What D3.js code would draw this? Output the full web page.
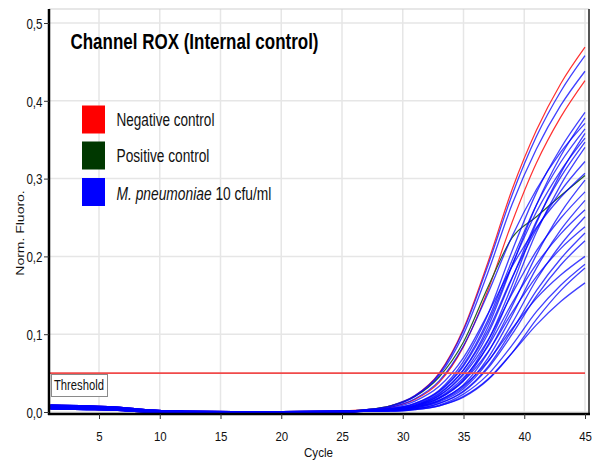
<!DOCTYPE html>
<html>
<head>
<meta charset="utf-8">
<script src="https://cdn.jsdelivr.net/npm/d3@7"></script>
<style>
  body { margin: 0; background: #fff; }
  svg { display: block; font-family: "Liberation Sans", Arial, sans-serif; }
</style>
</head>
<body>
<svg id="chart" width="598" height="460"></svg>
<script>
// Amplification cycles at which the fluorescence was sampled
const cycles = [1, 4, 7, 9, 12, 16, 20, 24, 27, 29, 31, 33, 35, 37, 39, 41, 43, 45];

// Normalised fluorescence, ROX channel (internal control)
const negativeControl = [
  [0.0088, 0.0078, 0.0056, 0.0028, 0.0012, 0.0006, 0.0006, 0.0010, 0.003, 0.008, 0.021, 0.050, 0.107, 0.192, 0.286, 0.362, 0.422, 0.469],
  [0.0040, 0.0032, 0.0018, -0.0004, -0.0014, -0.0020, -0.0019, -0.0013, 0.002, 0.006, 0.016, 0.038, 0.084, 0.156, 0.244, 0.320, 0.379, 0.426]
];
const positiveControl = [
  [0.0072, 0.0064, 0.0044, 0.0018, 0.0003, -0.0003, -0.0002, 0.0003, 0.003, 0.008, 0.020, 0.045, 0.090, 0.160, 0.224, 0.251, 0.278, 0.304]
];
const mPneumoniae = [
  [0.0072, 0.0064, 0.0044, 0.0018, 0.0003, -0.0003, -0.0002, 0.0003, 0.003, 0.008, 0.021, 0.049, 0.105, 0.188, 0.279, 0.354, 0.412, 0.458],
  [0.0056, 0.0048, 0.0030, 0.0006, -0.0006, -0.0012, -0.0011, -0.0005, 0.003, 0.007, 0.020, 0.047, 0.100, 0.179, 0.267, 0.338, 0.394, 0.438],
  [0.0040, 0.0032, 0.0018, -0.0004, -0.0014, -0.0020, -0.0019, -0.0013, 0.002, 0.004, 0.011, 0.028, 0.065, 0.125, 0.207, 0.282, 0.339, 0.385],
  [0.0088, 0.0078, 0.0056, 0.0028, 0.0012, 0.0006, 0.0006, 0.0010, 0.002, 0.004, 0.009, 0.023, 0.054, 0.109, 0.188, 0.266, 0.329, 0.378],
  [0.0072, 0.0064, 0.0044, 0.0018, 0.0003, -0.0003, -0.0002, 0.0003, 0.002, 0.006, 0.017, 0.040, 0.085, 0.152, 0.226, 0.286, 0.334, 0.371],
  [0.0056, 0.0048, 0.0030, 0.0006, -0.0006, -0.0012, -0.0011, -0.0005, 0.002, 0.004, 0.011, 0.027, 0.061, 0.118, 0.195, 0.266, 0.321, 0.364],
  [0.0040, 0.0032, 0.0018, -0.0004, -0.0014, -0.0020, -0.0019, -0.0013, 0.001, 0.003, 0.007, 0.018, 0.042, 0.091, 0.163, 0.243, 0.307, 0.358],
  [0.0088, 0.0078, 0.0056, 0.0028, 0.0012, 0.0006, 0.0006, 0.0010, 0.002, 0.004, 0.010, 0.026, 0.059, 0.114, 0.189, 0.257, 0.310, 0.352],
  [0.0072, 0.0064, 0.0044, 0.0018, 0.0003, -0.0003, -0.0002, 0.0003, 0.001, 0.003, 0.008, 0.021, 0.050, 0.100, 0.172, 0.245, 0.302, 0.347],
  [0.0056, 0.0048, 0.0030, 0.0006, -0.0006, -0.0012, -0.0011, -0.0005, 0.001, 0.002, 0.006, 0.017, 0.040, 0.086, 0.155, 0.231, 0.292, 0.340],
  [0.0040, 0.0032, 0.0018, -0.0004, -0.0014, -0.0020, -0.0019, -0.0013, 0.001, 0.004, 0.009, 0.024, 0.054, 0.104, 0.173, 0.235, 0.284, 0.322],
  [0.0088, 0.0078, 0.0056, 0.0028, 0.0012, 0.0006, 0.0006, 0.0010, 0.002, 0.005, 0.014, 0.033, 0.070, 0.126, 0.187, 0.237, 0.276, 0.307],
  [0.0072, 0.0064, 0.0044, 0.0018, 0.0003, -0.0003, -0.0002, 0.0003, 0.001, 0.002, 0.006, 0.015, 0.035, 0.076, 0.136, 0.202, 0.256, 0.298],
  [0.0056, 0.0048, 0.0030, 0.0006, -0.0006, -0.0012, -0.0011, -0.0005, 0.001, 0.003, 0.008, 0.021, 0.048, 0.092, 0.152, 0.207, 0.249, 0.283],
  [0.0040, 0.0032, 0.0018, -0.0004, -0.0014, -0.0020, -0.0019, -0.0013, 0.001, 0.002, 0.005, 0.014, 0.032, 0.069, 0.124, 0.185, 0.234, 0.272],
  [0.0088, 0.0078, 0.0056, 0.0028, 0.0012, 0.0006, 0.0006, 0.0010, 0.001, 0.003, 0.008, 0.019, 0.044, 0.084, 0.140, 0.190, 0.229, 0.260],
  [0.0072, 0.0064, 0.0044, 0.0018, 0.0003, -0.0003, -0.0002, 0.0003, 0.001, 0.002, 0.005, 0.013, 0.030, 0.064, 0.114, 0.170, 0.215, 0.251],
  [0.0056, 0.0048, 0.0030, 0.0006, -0.0006, -0.0012, -0.0011, -0.0005, 0.001, 0.003, 0.007, 0.018, 0.040, 0.077, 0.128, 0.174, 0.210, 0.238],
  [0.0040, 0.0032, 0.0018, -0.0004, -0.0014, -0.0020, -0.0019, -0.0013, 0.001, 0.002, 0.004, 0.011, 0.027, 0.058, 0.105, 0.156, 0.197, 0.230],
  [0.0088, 0.0078, 0.0056, 0.0028, 0.0012, 0.0006, 0.0006, 0.0010, 0.001, 0.002, 0.004, 0.011, 0.026, 0.056, 0.100, 0.149, 0.189, 0.220],
  [0.0072, 0.0064, 0.0044, 0.0018, 0.0003, -0.0003, -0.0002, 0.0003, 0.001, 0.002, 0.006, 0.015, 0.034, 0.065, 0.107, 0.146, 0.176, 0.200],
  [0.0056, 0.0048, 0.0030, 0.0006, -0.0006, -0.0012, -0.0011, -0.0005, 0.001, 0.001, 0.004, 0.009, 0.023, 0.048, 0.086, 0.129, 0.163, 0.190],
  [0.0040, 0.0032, 0.0018, -0.0004, -0.0014, -0.0020, -0.0019, -0.0013, 0.001, 0.001, 0.003, 0.008, 0.019, 0.041, 0.076, 0.119, 0.156, 0.185],
  [0.0088, 0.0078, 0.0056, 0.0028, 0.0012, 0.0006, 0.0006, 0.0010, 0.001, 0.001, 0.003, 0.008, 0.020, 0.042, 0.076, 0.112, 0.142, 0.166]
];

const threshold = 0.05;
const xTicks = [5, 10, 15, 20, 25, 30, 35, 40, 45];
const yTicks = [0, 0.1, 0.2, 0.3, 0.4, 0.5];
const legendColors = ["#ff0000", "#003800", "#0000ff"];

const svg = d3.select("#chart");

// plot frame
const frame = { left: 49, right: 589, top: 9, bottom: 414 };
const x = d3.scaleLinear().domain([1, 45]).range([50.4, 585]);
const y = d3.scaleLinear().domain([0, 0.5]).range([412, 23]);

// grid
const grid = svg.append("g").attr("stroke", "#e6e6e6").attr("stroke-width", 1.5);
grid.selectAll("line.v").data(xTicks).join("line")
  .attr("x1", d => x(d)).attr("x2", d => x(d))
  .attr("y1", frame.top).attr("y2", frame.bottom);
grid.selectAll("line.h").data(yTicks).join("line")
  .attr("x1", frame.left).attr("x2", frame.right)
  .attr("y1", d => y(d)).attr("y2", d => y(d));

// curves
svg.append("clipPath").attr("id", "plotClip").append("rect")
  .attr("x", frame.left + 1).attr("y", frame.top)
  .attr("width", frame.right - frame.left - 2).attr("height", frame.bottom - frame.top - 1);

const line = d3.line()
  .x((d, i) => x(cycles[i]))
  .y(d => y(d))
  .curve(d3.curveMonotoneX);

const curves = svg.append("g").attr("clip-path", "url(#plotClip)").attr("fill", "none");
curves.selectAll("path.neg").data(negativeControl).join("path")
  .attr("class", "neg").attr("d", line)
  .attr("stroke", "#ff1a1a").attr("stroke-width", 1.2).attr("stroke-opacity", 0.9);
curves.selectAll("path.pos").data(positiveControl).join("path")
  .attr("class", "pos").attr("d", line)
  .attr("stroke", "#2a5f2a").attr("stroke-width", 1.2);
curves.selectAll("path.mpn").data(mPneumoniae).join("path")
  .attr("class", "mpn").attr("d", line)
  .attr("stroke", "#0000ff").attr("stroke-width", 1.3).attr("stroke-opacity", 0.75);

// threshold
svg.append("line")
  .attr("x1", frame.left + 1).attr("x2", x(45))
  .attr("y1", y(threshold)).attr("y2", y(threshold))
  .attr("stroke", "#f04a4a").attr("stroke-width", 1.6);

const thrBox = svg.append("g");
thrBox.append("rect").attr("x", 51.5).attr("y", 374.5).attr("width", 56).attr("height", 22)
  .attr("fill", "#fff").attr("stroke", "#8a8a8a").attr("stroke-width", 1);
thrBox.append("text").attr("x", 54).attr("y", 390)
  .attr("font-size", 14).attr("fill", "#111")
  .attr("textLength", 50).attr("lengthAdjust", "spacingAndGlyphs")
  .text("Threshold");

// frame lines
svg.append("line").attr("x1", frame.left).attr("x2", frame.right)
  .attr("y1", frame.top).attr("y2", frame.top).attr("stroke", "#cfcfcf").attr("stroke-width", 1);
svg.append("line").attr("x1", frame.right).attr("x2", frame.right)
  .attr("y1", frame.top).attr("y2", frame.bottom + 1).attr("stroke", "#555").attr("stroke-width", 2);
svg.append("line").attr("x1", frame.left).attr("x2", frame.left)
  .attr("y1", frame.top).attr("y2", frame.bottom + 1).attr("stroke", "#000").attr("stroke-width", 2.5);
svg.append("line").attr("x1", frame.left - 1).attr("x2", frame.right + 1)
  .attr("y1", frame.bottom).attr("y2", frame.bottom).attr("stroke", "#000").attr("stroke-width", 2.5);

// axes
const yAxis = svg.append("g").attr("transform", `translate(${frame.left},0)`)
  .call(d3.axisLeft(y).tickValues(yTicks).tickSize(5)
    .tickFormat(d => d3.format(".1f")(d).replace(".", ",")));
yAxis.select(".domain").remove();
yAxis.selectAll("line").attr("stroke", "#333");
yAxis.selectAll("text")
  .attr("font-size", 14.5).attr("font-family", "'Liberation Sans', Arial, sans-serif").attr("fill", "#111")
  .attr("x", 0).attr("dy", "0.36em")
  .attr("transform", "translate(-6.5,0) scale(0.8,1)");

const xAxis = svg.append("g").attr("transform", `translate(0,${frame.bottom})`)
  .call(d3.axisBottom(x).tickValues(xTicks).tickSize(5));
xAxis.select(".domain").remove();
xAxis.selectAll("line").attr("stroke", "#333");
xAxis.selectAll("text")
  .attr("font-size", 13.5).attr("font-family", "'Liberation Sans', Arial, sans-serif").attr("fill", "#111")
  .attr("y", 0).attr("dy", "0.71em")
  .attr("transform", "translate(0,17) scale(0.85,1)");

// axis titles
svg.append("text")
  .attr("x", 318.5).attr("y", 457)
  .attr("text-anchor", "middle").attr("font-size", 13).attr("fill", "#111")
  .attr("textLength", 29).attr("lengthAdjust", "spacingAndGlyphs")
  .text("Cycle");
svg.append("text")
  .attr("transform", "translate(23.5,233) rotate(-90) scale(1,0.8)")
  .attr("text-anchor", "middle").attr("font-size", 14).attr("fill", "#111")
  .text("Norm. Fluoro.");

// title
svg.append("text")
  .attr("x", 70.5).attr("y", 48.5)
  .attr("font-size", 22).attr("font-weight", "bold").attr("fill", "#000")
  .attr("textLength", 248).attr("lengthAdjust", "spacingAndGlyphs")
  .text("Channel ROX (Internal control)");

// legend: swatches and labels; each label is squeezed horizontally to its slot width
const legendY = [105.5, 141.5, 178];
const legendBase = [126, 161.5, 200];
const legendWidths = [98, 93, 155];
const legend = svg.append("g");
legend.selectAll("rect").data(legendColors).join("rect")
  .attr("x", 82).attr("y", (d, i) => legendY[i])
  .attr("width", 23).attr("height", 28)
  .attr("fill", d => d);

const labelParts = [
  [["Negative control", "normal"]],
  [["Positive control", "normal"]],
  [["M. pneumoniae", "italic"], [" 10 cfu/ml", "normal"]]
];
labelParts.forEach((parts, i) => {
  const t = legend.append("text")
    .attr("font-size", 18.5).attr("fill", "#111")
    .attr("xml:space", "preserve");
  parts.forEach(([s, style]) => t.append("tspan").attr("font-style", style).text(s));
  const natural = t.node().getComputedTextLength();
  t.attr("transform", `translate(116.5,${legendBase[i]}) scale(${legendWidths[i] / natural},1)`);
});
</script>
</body>
</html>
